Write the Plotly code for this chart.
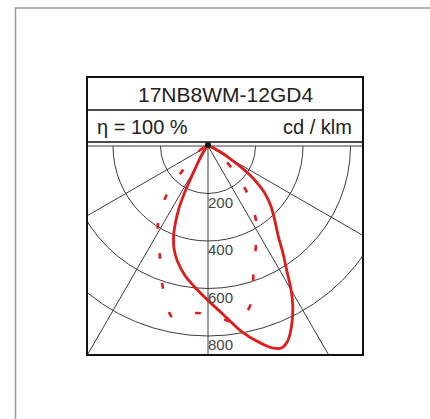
import numpy as np
import plotly.graph_objects as go

# ---------------- data ----------------
title_text = "17NB8WM-12GD4"
eta_text = "η = 100 %"
unit_text = "cd / klm"

ring_values = [200, 400, 600, 800]
ring_labels = ["200", "400", "600", "800"]
spoke_angles = [-60, -30, 0, 30, 60]

# C0 / C180 plane (solid) - gamma in degrees from nadir (negative = left)
c0_gamma = [-90, -60, -45, -40, -35, -30, -28.5, -27, -26, -25, -23, -21, -18, -15, -10, -5, 0,
            5, 10, 15, 18, 20, 22, 24, 26, 28, 30, 32, 35, 38, 42, 46, 50, 53, 56, 60, 65, 70, 80, 90]
c0_cd = [0, 5, 15, 25, 50, 100, 135, 200, 250, 290, 350, 404, 460, 500, 555, 600, 650,
         710, 790, 860, 895, 905, 890, 855, 810, 760, 700, 630, 550, 480, 420, 370, 315, 260, 200, 110, 55, 25, 5, 0]

# C90 / C270 plane (dashed)
c90_gamma = [-90, -70, -60, -55, -50, -46, -42, -40, -36, -32, -28, -24, -20, -16, -12, -8, -4, 0,
             4, 8, 10, 13, 16, 20, 24, 28, 32, 36, 40, 43, 46, 50, 55, 60, 70, 90]
c90_cd = [0, 20, 50, 80, 115, 150, 230, 275, 340, 400, 450, 500, 580, 660, 735, 730, 705, 710,
          725, 750, 748, 720, 675, 560, 490, 436, 385, 325, 255, 200, 150, 100, 55, 30, 10, 0]

# ---------------- layout geometry (pixels) ----------------
W, H = 430, 419
box_l, box_r, box_t, box_b = 87, 363, 77, 355
row1_b, row2_b = 110, 142
ox, oy = 208, 146
k = 0.2375  # px per cd/klm

def px(x):
    return x / W

def py(y):
    return (H - y) / H

xr = [-(ox - box_l) / k, (box_r - ox) / k]
yr = [-(box_b - oy) / k, 0]


def to_xy(g, r):
    g = np.radians(np.asarray(g, float))
    r = np.asarray(r, float)
    return r * np.sin(g), -r * np.cos(g)


red = "#e01b1b"
grid = "#3c3c3c"

fig = go.Figure()

x0, y0 = to_xy(c0_gamma, c0_cd)
fig.add_trace(go.Scatter(x=x0, y=y0, mode="lines",
                         line=dict(color=red, width=2.8, shape="spline", smoothing=0.8),
                         hoverinfo="skip", showlegend=False))
x9, y9 = to_xy(c90_gamma, c90_cd)
fig.add_trace(go.Scatter(x=x9, y=y9, mode="lines",
                         line=dict(color=red, width=2.6, shape="spline", smoothing=0.8, dash="6px,24px"),
                         hoverinfo="skip", showlegend=False))

shapes = []
# rings
for v in ring_values:
    shapes.append(dict(type="circle", xref="x", yref="y", x0=-v, x1=v, y0=-v, y1=v,
                       line=dict(color=grid, width=1), layer="below"))
# spokes
R = 3000
for a in spoke_angles:
    sx, sy = to_xy([a], [R])
    shapes.append(dict(type="line", xref="x", yref="y", x0=0, y0=0, x1=float(sx[0]), y1=float(sy[0]),
                       line=dict(color=grid, width=1), layer="below"))
# horizontal (90°) line
shapes.append(dict(type="line", xref="paper", yref="paper", x0=px(box_l), x1=px(box_r),
                   y0=py(oy), y1=py(oy), line=dict(color=grid, width=1), layer="above"))
# outer gray frame
shapes.append(dict(type="rect", xref="paper", yref="paper", x0=px(15.5), x1=1.1, y0=-0.1, y1=py(8),
                   line=dict(color="#9a9a9a", width=1.5), layer="above"))
# black box and row separators
shapes.append(dict(type="rect", xref="paper", yref="paper", x0=px(box_l), x1=px(box_r),
                   y0=py(box_b), y1=py(box_t), line=dict(color="#111111", width=2), layer="above"))
for yy in (row1_b, row2_b):
    shapes.append(dict(type="line", xref="paper", yref="paper", x0=px(box_l), x1=px(box_r),
                       y0=py(yy), y1=py(yy), line=dict(color="#111111", width=1.6), layer="above"))
# origin blob
shapes.append(dict(type="circle", xref="paper", yref="paper", x0=px(ox - 3), x1=px(ox + 3),
                   y0=py(oy + 2), y1=py(oy - 4), fillcolor="#111111", line=dict(width=0), layer="above"))

annotations = []
font = "Liberation Sans, Arial, sans-serif"
annotations.append(dict(text=title_text, xref="paper", yref="paper", x=px((box_l + box_r) / 2), y=py(94),
                        xanchor="center", yanchor="middle", showarrow=False,
                        font=dict(family=font, size=21, color="#222222")))
annotations.append(dict(text=eta_text, xref="paper", yref="paper", x=px(95), y=py(126.5),
                        xanchor="left", yanchor="middle", showarrow=False,
                        font=dict(family=font, size=20, color="#222222")))
annotations.append(dict(text=unit_text, xref="paper", yref="paper", x=px(354), y=py(126.5),
                        xanchor="right", yanchor="middle", showarrow=False,
                        font=dict(family=font, size=20, color="#222222")))
for v, lab in zip(ring_values, ring_labels):
    annotations.append(dict(text=lab, xref="x", yref="y", x=0, y=-v, xanchor="left", yanchor="top",
                            showarrow=False, borderpad=0, xshift=-1, yshift=1,
                            font=dict(family=font, size=15, color="#444444")))

fig.update_layout(
    width=W, height=H, autosize=False,
    margin=dict(l=0, r=0, t=0, b=0),
    paper_bgcolor="white", plot_bgcolor="white",
    showlegend=False,
    xaxis=dict(range=xr, domain=[px(box_l), px(box_r)], visible=False, fixedrange=True),
    yaxis=dict(range=yr, domain=[py(box_b), py(oy)], visible=False, fixedrange=True),
    shapes=shapes, annotations=annotations,
)

fig.write_html("out.html", config={"displayModeBar": False},
               post_script="document.body.style.margin='0';document.body.style.padding='0';"
                           "document.body.style.overflow='hidden';")
